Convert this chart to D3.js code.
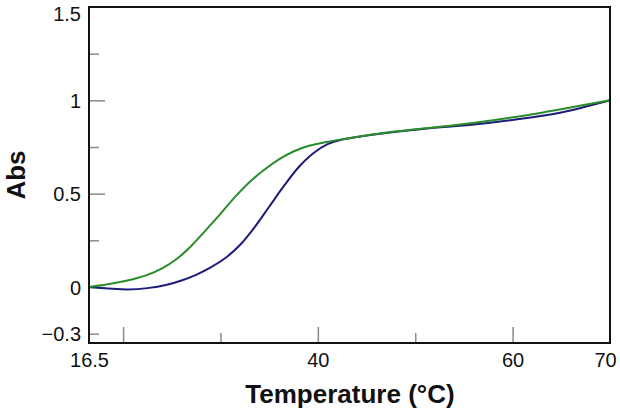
<!DOCTYPE html>
<html>
<head>
<meta charset="utf-8">
<script src="https://cdn.jsdelivr.net/npm/d3@7"></script>
<style>
  html, body { margin: 0; padding: 0; background: #fff; }
  svg { display: block; font-family: "Liberation Sans", Arial, Helvetica, sans-serif; }
</style>
</head>
<body>
<svg id="chart" width="620" height="412"></svg>
<script>
// ---- data ----
const blueSeries = [
  [16.5, 0], [18.5, -0.008], [20.5, -0.013], [22.5, -0.006], [24.5, 0.012],
  [26, 0.035], [27.5, 0.065], [29, 0.105], [30.5, 0.155], [32, 0.225],
  [33.5, 0.32], [35, 0.43], [36.5, 0.54], [38, 0.64], [39.5, 0.715],
  [41, 0.765], [42.5, 0.79], [44, 0.803], [47, 0.825], [51, 0.848],
  [56, 0.87], [60, 0.895], [65, 0.935], [70, 1.0]
];
const greenSeries = [
  [16.5, 0], [19, 0.02], [21, 0.042], [22.5, 0.065], [24, 0.1],
  [25.5, 0.15], [27, 0.22], [28.5, 0.305], [30, 0.392], [31.5, 0.483],
  [33, 0.563], [34.5, 0.628], [36, 0.684], [37.5, 0.726], [39, 0.755],
  [41, 0.778], [43, 0.795], [46, 0.82], [50, 0.845], [54, 0.866],
  [58, 0.893], [63, 0.934], [70, 1.0]
];
const xLabelValues = [16.5, 40, 60, 70];
const xLabelTexts = ["16.5", "40", "60", "70"];
const xMajorTicks = [20, 40, 60];
const xMinorTicks = [30, 50];
const yLabelValues = [-0.25, 0, 0.5, 1, 1.5];
const yLabelTexts = ["\u22120.3", "0", "0.5", "1", "1.5"];
const yMajorTicks = [0, 0.5, 1];
const yMinorTicks = [-0.25, 0.25, 0.75, 1.25];
const xTitle = "Temperature (\u00B0C)";
const yTitle = "Abs";

// ---- layout ----
const L = 89, R = 610, T = 7, B = 343;
const svg = d3.select("#chart");
const x = d3.scaleLinear().domain([16.5, 70]).range([L, R]);
const y = d3.scaleLinear().domain([-0.3, 1.5]).range([B, T]);

function styleTicks(g) {
  g.select(".domain").remove();
  g.selectAll(".tick line").attr("stroke", "#8a8a8a").attr("stroke-width", 1.5);
}

// y ticks (inward)
svg.append("g").attr("transform", `translate(${L},0)`)
  .call(d3.axisLeft(y).tickValues(yMajorTicks).tickSize(-16).tickFormat(""))
  .call(styleTicks);
svg.append("g").attr("transform", `translate(${L},0)`)
  .call(d3.axisLeft(y).tickValues(yMinorTicks).tickSize(-10).tickFormat(""))
  .call(styleTicks);
// x ticks (inward)
svg.append("g").attr("transform", `translate(0,${B})`)
  .call(d3.axisBottom(x).tickValues(xMajorTicks).tickSize(-16).tickFormat(""))
  .call(styleTicks);
svg.append("g").attr("transform", `translate(0,${B})`)
  .call(d3.axisBottom(x).tickValues(xMinorTicks).tickSize(-10).tickFormat(""))
  .call(styleTicks);

// y labels
const yl = svg.append("g").attr("transform", `translate(${L},0)`)
  .call(d3.axisLeft(y).tickValues(yLabelValues).tickSize(0).tickPadding(8)
    .tickFormat((d, i) => yLabelTexts[i]));
yl.select(".domain").remove();
yl.selectAll(".tick text").attr("font-size", 20).attr("fill", "#111")
  .attr("font-family", "Liberation Sans, Arial, sans-serif")
  .attr("dy", (d) => d === 1.5 ? "0.65em" : "0.35em");

// x labels
const xl = svg.append("g").attr("transform", `translate(0,${B})`)
  .call(d3.axisBottom(x).tickValues(xLabelValues).tickSize(0).tickPadding(10)
    .tickFormat((d, i) => xLabelTexts[i]));
xl.select(".domain").remove();
xl.selectAll(".tick text").attr("font-size", 20).attr("fill", "#111")
  .attr("font-family", "Liberation Sans, Arial, sans-serif")
  .attr("dx", (d) => d === 70 ? -5 : 0);

// lines
const line = d3.line().x(d => x(d[0])).y(d => y(d[1])).curve(d3.curveCatmullRom.alpha(0.5));
svg.append("path").datum(blueSeries).attr("d", line)
  .attr("fill", "none").attr("stroke", "#1c1c7c").attr("stroke-width", 2);
svg.append("path").datum(greenSeries).attr("d", line)
  .attr("fill", "none").attr("stroke", "#2a8c2a").attr("stroke-width", 2);

// frame
svg.append("rect").attr("x", L).attr("y", T).attr("width", R - L).attr("height", B - T)
  .attr("fill", "none").attr("stroke", "#111").attr("stroke-width", 2);

// titles
svg.append("text").attr("x", 350).attr("y", 403).attr("text-anchor", "middle")
  .attr("font-size", 26).attr("font-weight", "bold").attr("fill", "#111").text(xTitle);
svg.append("text").attr("transform", "translate(25,175) rotate(-90)").attr("text-anchor", "middle")
  .attr("font-size", 26).attr("font-weight", "bold").attr("fill", "#111").text(yTitle);
</script>
</body>
</html>
